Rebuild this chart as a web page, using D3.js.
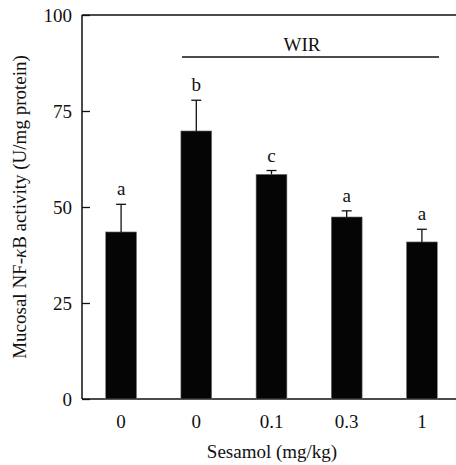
<!DOCTYPE html>
<html>
<head>
    <meta charset="UTF-8">
    <style>
        body { margin: 0; background: #fff; }
        text { font-family: "Liberation Serif", "DejaVu Serif", serif; fill: #111; }
    </style>
    <script src="https://d3js.org/d3.v7.min.js"></script>
</head>
<body>
<script>
    // data
    var groups = ["g1", "g2", "g3", "g4", "g5"];
    var doseLabels = ["0", "0", "0.1", "0.3", "1"];
    var means = [43.5, 69.8, 58.5, 47.4, 40.9];
    var upperErr = [50.7, 77.8, 59.5, 49.0, 44.2];
    var letters = ["a", "b", "c", "a", "a"];
    var yTicks = [0, 25, 50, 75, 100];

    var width = 456, height = 465;
    var margin = { top: 15, right: 0, bottom: 66, left: 82 };
    var fs = 19;

    var svg = d3.select("body").append("svg")
        .attr("width", width)
        .attr("height", height);

    var y = d3.scaleLinear().domain([0, 100]).range([height - margin.bottom, margin.top]);
    var x = d3.scaleBand().domain(groups).range([83.5, 459.5]).paddingInner(0.59).paddingOuter(0.295);

    // frame: left, top, bottom
    svg.append("line").attr("x1", margin.left).attr("x2", margin.left)
        .attr("y1", y(100)).attr("y2", y(0)).attr("stroke", "#111").attr("stroke-width", 1.5);
    svg.append("line").attr("x1", margin.left).attr("x2", width)
        .attr("y1", y(100)).attr("y2", y(100)).attr("stroke", "#111").attr("stroke-width", 1.3);
    svg.append("line").attr("x1", margin.left).attr("x2", width)
        .attr("y1", y(0)).attr("y2", y(0)).attr("stroke", "#111").attr("stroke-width", 1.3);

    // y axis with inward ticks
    var yAxis = svg.append("g")
        .attr("transform", "translate(" + margin.left + ",0)")
        .call(d3.axisLeft(y).tickValues(yTicks).tickSizeInner(-8).tickSizeOuter(0).tickPadding(10));
    yAxis.select(".domain").remove();
    yAxis.selectAll("line").attr("stroke", "#111").attr("stroke-width", 1.3);
    yAxis.selectAll("text").attr("font-size", fs).attr("font-family", "Liberation Serif").attr("fill", "#111");

    // x labels
    svg.selectAll(".xlab").data(groups).enter().append("text")
        .attr("x", function(d) { return x(d) + x.bandwidth() / 2; })
        .attr("y", 428)
        .attr("text-anchor", "middle")
        .attr("font-size", fs)
        .text(function(d, i) { return doseLabels[i]; });

    // bars
    svg.selectAll(".bar").data(groups).enter().append("rect")
        .attr("x", function(d) { return x(d); })
        .attr("y", function(d, i) { return y(means[i]); })
        .attr("width", x.bandwidth())
        .attr("height", function(d, i) { return y(0) - y(means[i]); })
        .attr("fill", "#050505")
        .attr("stroke", "#777")
        .attr("stroke-width", 0.6);

    // upper error bars
    var cap = 5;
    groups.forEach(function(d, i) {
        var cx = x(d) + x.bandwidth() / 2;
        svg.append("line").attr("x1", cx).attr("x2", cx)
            .attr("y1", y(means[i])).attr("y2", y(upperErr[i]))
            .attr("stroke", "#111").attr("stroke-width", 1.3);
        svg.append("line").attr("x1", cx - cap).attr("x2", cx + cap)
            .attr("y1", y(upperErr[i])).attr("y2", y(upperErr[i]))
            .attr("stroke", "#111").attr("stroke-width", 1.3);
        svg.append("text").attr("x", cx).attr("y", y(upperErr[i]) - 9)
            .attr("text-anchor", "middle").attr("font-size", fs)
            .text(letters[i]);
    });

    // WIR bracket
    svg.append("line").attr("x1", 182).attr("x2", 439)
        .attr("y1", 57).attr("y2", 57).attr("stroke", "#111").attr("stroke-width", 1.3);
    svg.append("text").attr("x", 302).attr("y", 51).attr("text-anchor", "middle")
        .attr("font-size", fs).text("WIR");

    // axis titles
    svg.append("text").attr("x", 272).attr("y", 458).attr("text-anchor", "middle")
        .attr("font-size", fs).text("Sesamol (mg/kg)");
    var yt = svg.append("text")
        .attr("transform", "translate(26," + 207 + ") rotate(-90)")
        .attr("text-anchor", "middle")
        .attr("font-size", fs);
    yt.append("tspan").text("Mucosal NF-");
    yt.append("tspan").attr("font-style", "italic").text("\u03BA");
    yt.append("tspan").text("B activity (U/mg protein)");
</script>
</body>
</html>
